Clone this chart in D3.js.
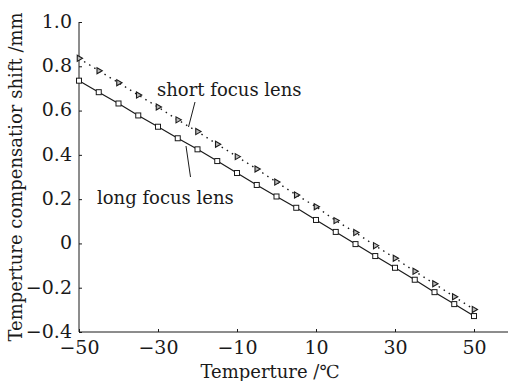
<!DOCTYPE html>
<html>
<head>
<meta charset="utf-8">
<script src="https://cdn.jsdelivr.net/npm/d3@7"></script>
<style>
  body { margin: 0; background: #fff; }
  svg { display: block; font-family: "DejaVu Serif", serif; }
</style>
</head>
<body>
<div id="chart"></div>
<script>
var temps = [-50, -45, -40, -35, -30, -25, -20, -15, -10, -5, 0, 5, 10, 15, 20, 25, 30, 35, 40, 45, 50];
var longLens = [0.735, 0.683, 0.632, 0.578, 0.527, 0.475, 0.425, 0.372, 0.318, 0.264, 0.212, 0.161, 0.106, 0.052, -0.003, -0.057, -0.11, -0.164, -0.22, -0.274, -0.328];
var shortLens = [0.836, 0.78, 0.726, 0.67, 0.616, 0.558, 0.505, 0.448, 0.392, 0.336, 0.277, 0.219, 0.166, 0.103, 0.049, -0.01, -0.067, -0.126, -0.182, -0.241, -0.298];
var xTicks = [-50, -30, -10, 10, 30, 50];
var yTicks = [-0.4, -0.2, 0, 0.2, 0.4, 0.6, 0.8, 1.0];

var width = 511, height = 381;
var svg = d3.select("#chart").append("svg")
    .attr("width", width)
    .attr("height", height);

var x = d3.scaleLinear().domain([-50, 50]).range([79, 474]);
var y = d3.scaleLinear().domain([-0.4, 1.0]).range([332, 22]);

function xFmt(v) {
    return String(v).replace("-", "\u2212");
}
function yFmt(v) {
    var s = Math.abs(v) < 1e-9 ? "0" : v.toFixed(1);
    return s.replace("-", "\u2212");
}

var ink = "#1a1a1a";

// axes
var xAxis = d3.axisBottom(x).tickValues(xTicks).tickSize(-3).tickPadding(9).tickFormat(xFmt);
var yAxis = d3.axisLeft(y).tickValues(yTicks).tickSize(-3).tickPadding(7).tickFormat(yFmt);

var gx = svg.append("g").attr("transform", "translate(0," + y(-0.4) + ")").call(xAxis);
var gy = svg.append("g").attr("transform", "translate(" + x(-50) + ",0)").call(yAxis);

[gx, gy].forEach(function(g) {
    g.select(".domain").remove();
    g.selectAll("line").attr("stroke", ink);
    g.selectAll("text").attr("fill", ink).style("font-size", "19px").style("font-family", "DejaVu Serif");
});
gy.selectAll("text").attr("dy", "0.28em");

// axis lines, x runs out to the right edge
svg.append("line").attr("x1", x(-50)).attr("x2", 508)
    .attr("y1", y(-0.4)).attr("y2", y(-0.4)).attr("stroke", ink);
svg.append("line").attr("x1", x(-50)).attr("x2", x(-50))
    .attr("y1", y(-0.4)).attr("y2", y(1.0)).attr("stroke", ink);

// lines
var lineGen = d3.line()
    .x(function(d) { return x(d[0]); })
    .y(function(d) { return y(d[1]); });

var longData = temps.map(function(t, i) { return [t, longLens[i]]; });
var shortData = temps.map(function(t, i) { return [t, shortLens[i]]; });

svg.append("path").datum(shortData)
    .attr("d", lineGen).attr("fill", "none")
    .attr("stroke", ink).attr("stroke-width", 1.4)
    .attr("stroke-dasharray", "1.5,4.5");

svg.append("path").datum(longData)
    .attr("d", lineGen).attr("fill", "none")
    .attr("stroke", ink).attr("stroke-width", 1.2);

// markers
var tri = d3.symbol().type(d3.symbolTriangle).size(16);
svg.selectAll(".tri").data(shortData).enter().append("path")
    .attr("class", "tri")
    .attr("d", tri)
    .attr("transform", function(d) { return "translate(" + x(d[0]) + "," + y(d[1]) + ") rotate(90)"; })
    .attr("fill", "#bbb").attr("stroke", ink).attr("stroke-width", 1.1);

svg.selectAll(".sq").data(longData).enter().append("rect")
    .attr("class", "sq")
    .attr("x", function(d) { return x(d[0]) - 2.5; })
    .attr("y", function(d) { return y(d[1]) - 2.5; })
    .attr("width", 5).attr("height", 5)
    .attr("fill", "#fff").attr("stroke", ink).attr("stroke-width", 1);

// annotations
svg.append("text").attr("x", 157).attr("y", 96)
    .attr("fill", ink).style("font-size", "18px").text("short focus lens");
svg.append("line").attr("x1", 195).attr("y1", 102).attr("x2", 188.5).attr("y2", 127)
    .attr("stroke", ink);

svg.append("text").attr("x", 97).attr("y", 204)
    .attr("fill", ink).style("font-size", "18px").text("long focus lens");
svg.append("line").attr("x1", 186).attr("y1", 146).attr("x2", 190.5).attr("y2", 177)
    .attr("stroke", ink);

// axis titles
svg.append("text").attr("x", 270).attr("y", 378)
    .attr("text-anchor", "middle").attr("fill", ink).style("font-size", "18px")
    .text("Temperture /\u2103");

svg.append("text")
    .attr("transform", "translate(22," + 177 + ") rotate(-90)")
    .attr("text-anchor", "middle").attr("fill", ink).style("font-size", "18px")
    .text("Temperture compensatior shift /mm");
</script>
</body>
</html>
